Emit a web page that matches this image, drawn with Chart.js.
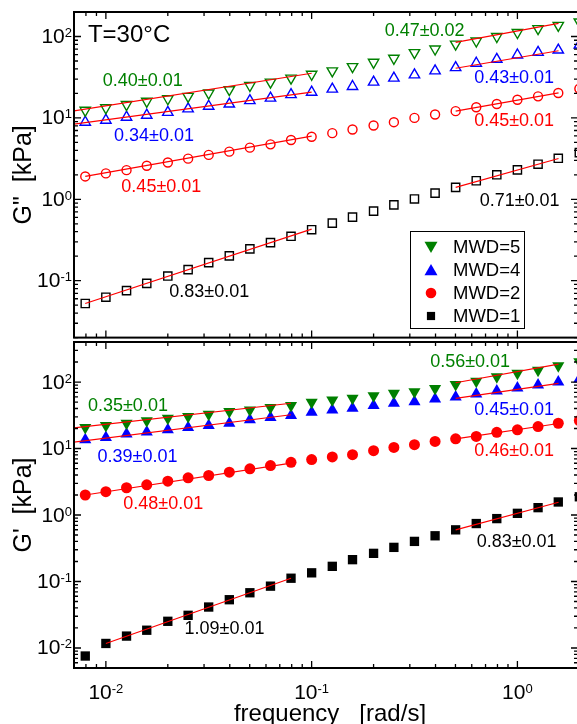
<!DOCTYPE html>
<html>
<head>
<meta charset="utf-8">
<script src="https://cdn.jsdelivr.net/npm/chart.js@4.4.1/dist/chart.umd.min.js"></script>
<style>
  html, body { margin: 0; padding: 0; background: #fff; overflow: hidden; }
  #wrap { position: relative; width: 577px; height: 724px; overflow: hidden; }
  canvas { position: absolute; left: 0; }
  #gpp { top: 0; }
  #gp { top: 335px; }
</style>
</head>
<body>
<div id="wrap">
  <canvas id="gpp" width="600" height="345"></canvas>
  <canvas id="gp" width="600" height="389"></canvas>
</div>
<script>
const FONT = '"Liberation Sans", Arial, Helvetica, sans-serif';

// angular frequency [rad/s]
const freq = [0.00794, 0.01, 0.0126, 0.0158, 0.02, 0.0251, 0.0316, 0.0398, 0.0501, 0.0631,
              0.0794, 0.1, 0.126, 0.158, 0.2, 0.251, 0.316, 0.398, 0.501, 0.631,
              0.794, 1.0, 1.26, 1.58, 2.0];

const mwdLabels = ['MWD=5', 'MWD=4', 'MWD=2', 'MWD=1'];

// loss modulus G'' [kPa]
const gpp5 = [12.4, 13.3, 14.6, 16.0, 17.2, 18.4, 20.2, 22.2, 25.0, 27.5, 30.8, 34.4, 37.8,
              42.7, 48.2, 54.0, 63.3, 70.2, 80.7, 88.0, 100, 112, 125, 137, 151];
const gpp4 = [8.86, 9.37, 10.2, 10.8, 11.7, 12.9, 13.9, 14.8, 16.3, 17.5, 19.3, 20.7, 22.6,
              24.3, 27.5, 30.8, 33.8, 37.8, 41.5, 46.9, 52.5, 59.3, 63.9, 68.2, 78.5];
const gpp2 = [1.91, 2.08, 2.28, 2.58, 2.83, 3.16, 3.51, 3.85, 4.31, 4.73, 5.35, 5.87, 6.50,
              7.21, 8.07, 8.86, 10.0, 11.0, 12.1, 13.5, 14.8, 16.7, 18.4, 20.2, 22.8];
const gpp1 = [0.0525, 0.0627, 0.0755, 0.0928, 0.114, 0.137, 0.167, 0.202, 0.246, 0.294, 0.351,
              0.423, 0.510, 0.604, 0.715, 0.853, 1.01, 1.19, 1.40, 1.69, 2.00, 2.30, 2.70, 3.19, 3.74];

// storage modulus G' [kPa]
const gp5 = [20.7, 22.2, 24.0, 26.1, 28.6, 30.3, 32.8, 36.0, 38.1, 41.3, 44.2, 49.6, 53.7,
             56.9, 62.4, 67.6, 71.6, 80.2, 92.0, 103, 120, 135, 151, 175, 201];
const gp4 = [13.6, 14.7, 16.5, 17.7, 19.1, 20.7, 22.2, 24.0, 27.0, 29.2, 31.3, 35.2, 38.1,
             40.3, 44.2, 47.9, 50.7, 55.6, 59.6, 66.0, 73.3, 81.3, 90.2, 100, 111];
const gp2 = [2.00, 2.24, 2.57, 2.85, 3.23, 3.62, 3.93, 4.41, 4.95, 5.55, 6.21, 6.81, 7.46,
             8.09, 9.29, 10.4, 11.4, 12.8, 14.0, 15.2, 17.5, 19.1, 21.4, 24.0, 26.4];
const gp1 = [0.00757, 0.0117, 0.0151, 0.0185, 0.0252, 0.0310, 0.0413, 0.0532, 0.0677, 0.0851,
             0.112, 0.135, 0.169, 0.213, 0.265, 0.326, 0.401, 0.487, 0.598, 0.744, 0.883,
             1.06, 1.29, 1.57, 1.88];

// power-law fits: [from, to, slope, error, modulus at "from"]
const gppFits = [
  [[0.007, 0.1, 0.40, 0.01, 12.2], [0.501, 1.585, 0.47, 0.02, 84.5]],
  [[0.007, 0.1, 0.34, 0.01, 8.4], [0.501, 1.585, 0.43, 0.01, 40.7]],
  [[0.00794, 0.1, 0.45, 0.01, 1.91], [0.501, 1.585, 0.45, 0.01, 12.1]],
  [[0.00794, 0.1, 0.83, 0.01, 0.0525], [0.501, 1.585, 0.71, 0.01, 1.40]]
];
const gpFits = [
  [[0.007, 0.0794, 0.35, 0.01, 20.5], [0.501, 1.585, 0.56, 0.01, 97.5]],
  [[0.007, 0.0794, 0.39, 0.01, 12.5], [0.501, 1.585, 0.45, 0.01, 56.9]],
  [[0.00794, 0.0794, 0.48, 0.01, 2.0], [0.501, 1.585, 0.46, 0.01, 14.0]],
  [[0.01, 0.0794, 1.09, 0.01, 0.0117], [0.501, 1.585, 0.83, 0.01, 0.598]]
];

// axis ranges and labelled decades
const xRange = [0.007, 1.97];
const xDecades = [-2, -1, 0];
const gppRange = [0.02, 200];
const gppDecades = [-1, 0, 1, 2];
const gpRange = [0.005, 400];
const gpDecades = [-2, -1, 0, 1, 2];

const colors = ['#008000', '#0000ff', '#ff0000', '#000000'];

// where the slope numbers sit, in (freq, modulus)
const gppLabelAt = [
  [[0.0151, 28.0], [0.354, 117]],
  [[0.01714, 5.98], [0.964, 30.5]],
  [[0.0186, 1.43], [0.964, 9.12]],
  [[0.0318, 0.0728], [1.025, 0.964]]
];
const gpLabelAt = [
  [[0.0128, 44.2], [0.589, 201]],
  [[0.01425, 7.38], [0.964, 38.5]],
  [[0.0190, 1.47], [0.964, 9.07]],
  [[0.0377, 0.0191], [0.991, 0.396]]
];

function drawMarker(ctx, style, x, y, r, rot) {
  ctx.beginPath();
  if (style === 'circle') {
    ctx.arc(x, y, r, 0, Math.PI * 2);
  } else if (style === 'rect') {
    const s = r * Math.SQRT1_2;
    ctx.rect(x - s, y - s, 2 * s, 2 * s);
  } else {
    let a = (rot || 0) * Math.PI / 180;
    ctx.moveTo(x + Math.sin(a) * r, y - Math.cos(a) * r);
    a += 2 * Math.PI / 3;
    ctx.lineTo(x + Math.sin(a) * r, y - Math.cos(a) * r);
    a += 2 * Math.PI / 3;
    ctx.lineTo(x + Math.sin(a) * r, y - Math.cos(a) * r);
    ctx.closePath();
  }
  ctx.fill();
}

// "10" with a raised exponent; y is the middle of the "10"
function drawPow(ctx, exp, x, y, align) {
  ctx.font = '21px ' + FONT;
  const wb = ctx.measureText('10').width;
  ctx.font = '13px ' + FONT;
  const we = ctx.measureText(String(exp)).width;
  const x0 = align === 'right' ? x - wb - we : x - (wb + we) / 2;
  ctx.textAlign = 'left';
  ctx.textBaseline = 'alphabetic';
  ctx.font = '21px ' + FONT;
  ctx.fillText('10', x0, y + 7.5);
  ctx.font = '13px ' + FONT;
  ctx.fillText(String(exp), x0 + wb, y + 1.5);
}

function logTicks(min, max) {
  const out = [];
  for (let n = -4; n <= 3; n++) {
    for (let m = 1; m <= 9; m++) {
      const v = m * Math.pow(10, n);
      if (v >= min && v <= max) out.push([v, m === 1]);
    }
  }
  return out;
}

const framePlugin = {
  id: 'frame',
  afterDatasetsDraw(chart, args, o) {
    const ctx = chart.ctx;
    const { left, right, top, bottom } = chart.chartArea;
    const xs = chart.scales.x, ys = chart.scales.y;
    ctx.save();
    ctx.strokeStyle = '#000';
    ctx.fillStyle = '#000';

    // inward tick marks on all four sides
    ctx.lineWidth = 1.3;
    ctx.beginPath();
    logTicks(xRange[0], xRange[1]).forEach(([v, major]) => {
      const px = xs.getPixelForValue(v);
      const len = major ? 7 : 4;
      ctx.moveTo(px, bottom); ctx.lineTo(px, bottom - len);
      ctx.moveTo(px, top); ctx.lineTo(px, top + len);
    });
    logTicks(o.yRange[0], o.yRange[1]).forEach(([v, major]) => {
      const py = ys.getPixelForValue(v);
      const len = major ? 7 : 4;
      ctx.moveTo(left, py); ctx.lineTo(left + len, py);
      ctx.moveTo(right, py); ctx.lineTo(right - len, py);
    });
    ctx.stroke();

    ctx.lineWidth = 2;
    ctx.strokeRect(left, top, right - left, bottom - top);

    // y tick labels
    o.yDecades.forEach(n => drawPow(ctx, n, 72, ys.getPixelForValue(Math.pow(10, n)) - 1, 'right'));

    // x tick labels only under the lower panel
    if (o.xLabels) {
      xDecades.forEach(n => drawPow(ctx, n, xs.getPixelForValue(Math.pow(10, n)), bottom + 23, 'center'));
      ctx.font = '24px ' + FONT;
      ctx.textAlign = 'center';
      ctx.textBaseline = 'middle';
      ctx.fillText('frequency   [rad/s]', (left + right) / 2 + 4, bottom + 46);
    }

    // y axis title
    ctx.save();
    ctx.translate(24, (top + bottom) / 2);
    ctx.rotate(-Math.PI / 2);
    ctx.font = '25px ' + FONT;
    ctx.textAlign = 'center';
    ctx.textBaseline = 'middle';
    ctx.fillText(o.yTitle, 0, 0);
    ctx.restore();

    // slope of each fitted segment
    ctx.font = '18px ' + FONT;
    ctx.textAlign = 'center';
    ctx.textBaseline = 'middle';
    o.fits.forEach((segs, i) => {
      ctx.fillStyle = colors[i];
      segs.forEach((f, j) => {
        const at = o.labelAt[i][j];
        ctx.fillText(f[2].toFixed(2) + '±' + f[3].toFixed(2),
          xs.getPixelForValue(at[0]), ys.getPixelForValue(at[1]));
      });
    });

    if (o.legend) {
      ctx.fillStyle = '#000';
      ctx.font = '24px ' + FONT;
      ctx.textAlign = 'left';
      ctx.fillText('T=30°C', xs.getPixelForValue(0.00818), ys.getPixelForValue(102));

      ctx.lineWidth = 1;
      ctx.strokeRect(410.5, 231.5, 114, 97);
      ctx.font = '18.5px ' + FONT;
      mwdLabels.forEach((lab, i) => {
        const y = 247 + i * 23;
        const m = o.marks[i];
        ctx.fillStyle = colors[i];
        drawMarker(ctx, m.style, 431, y + (m.rot ? -1.5 : (m.style === 'triangle' ? 1.5 : 0)), m.legendR, m.rot);
        ctx.fillStyle = '#000';
        ctx.fillText(lab, 453, y + 1);
      });
    }
    ctx.restore();
  }
};

function makePanel(id, series, fits, labelAt, yRange, yDecades, yTitle, open, padding, extra) {
  const marks = [
    { style: 'triangle', rot: 180, r: open ? 6 : 7, legendR: 7.5 },
    { style: 'triangle', rot: 0, r: open ? 6 : 7, legendR: 7.5 },
    { style: 'circle', rot: 0, r: open ? 4.5 : 5.5, legendR: 5.3 },
    { style: 'rect', rot: 0, r: open ? 5.8 : 6.6, legendR: 5.8 }
  ];
  const datasets = [];
  fits.forEach(segs => segs.forEach(f => {
    datasets.push({
      data: [{ x: f[0], y: f[4] }, { x: f[1], y: f[4] * Math.pow(f[1] / f[0], f[2]) }],
      showLine: true, borderColor: '#ff0000', borderWidth: 1.2, pointRadius: 0, order: 0
    });
  }));
  series.forEach((vals, i) => {
    datasets.push({
      label: mwdLabels[i],
      data: freq.map((f, k) => ({ x: f, y: vals[k] })),
      showLine: false,
      pointStyle: marks[i].style,
      rotation: marks[i].rot,
      pointRadius: marks[i].r,
      pointBorderWidth: open ? 1.4 : 0,
      pointBorderColor: colors[i],
      pointBackgroundColor: open ? 'rgba(0,0,0,0)' : colors[i],
      order: 1
    });
  });
  return new Chart(document.getElementById(id), {
    type: 'scatter',
    data: { datasets },
    options: {
      responsive: false,
      animation: false,
      events: [],
      layout: { padding },
      scales: {
        x: { type: 'logarithmic', min: xRange[0], max: xRange[1], display: false },
        y: { type: 'logarithmic', min: yRange[0], max: yRange[1], display: false }
      },
      plugins: {
        legend: { display: false },
        tooltip: { enabled: false },
        frame: Object.assign({ fits, labelAt, yRange, yDecades, yTitle, marks }, extra)
      }
    },
    plugins: [framePlugin]
  });
}

makePanel('gpp', [gpp5, gpp4, gpp2, gpp1], gppFits, gppLabelAt, gppRange, gppDecades,
  'G"  [kPa]', true, { left: 74, top: 12, right: 22, bottom: 5 }, { legend: true });
makePanel('gp', [gp5, gp4, gp2, gp1], gpFits, gpLabelAt, gpRange, gpDecades,
  "G'  [kPa]", false, { left: 74, top: 5, right: 22, bottom: 56 }, { xLabels: true });
</script>
</body>
</html>
